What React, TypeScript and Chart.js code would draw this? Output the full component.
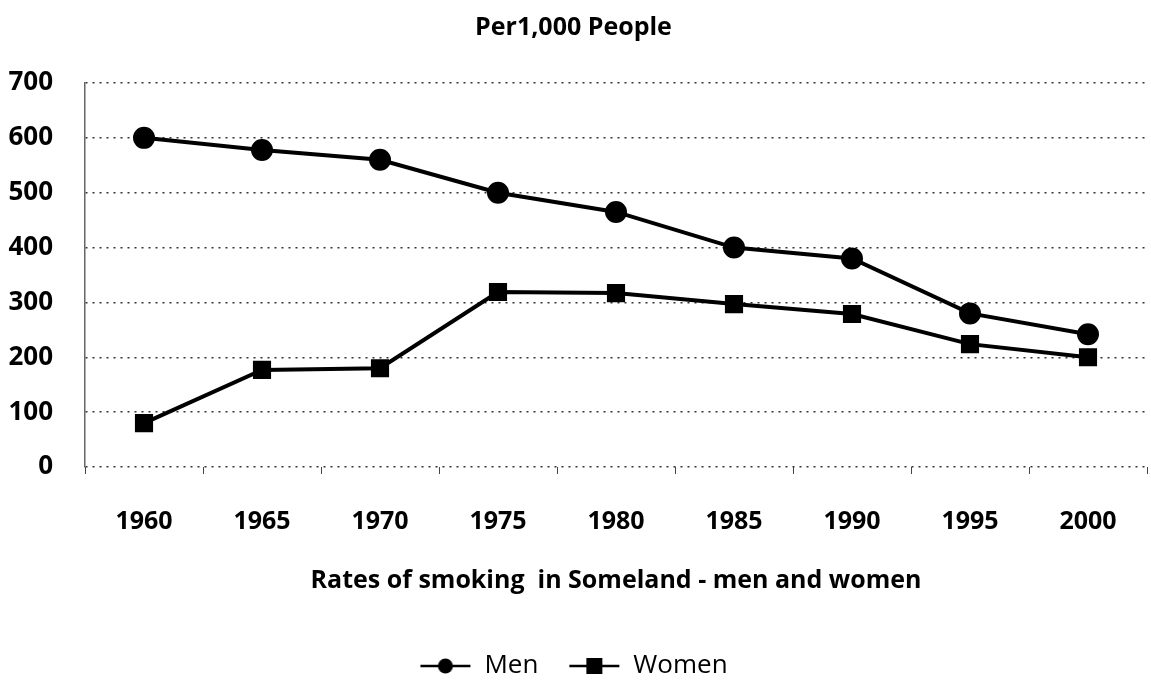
import React, { useEffect, useRef } from "react";
import { Chart, registerables } from "chart.js";

Chart.register(...registerables);

const categories = ["1960", "1965", "1970", "1975", "1980", "1985", "1990", "1995", "2000"];
const menValues = [600, 578, 560, 500, 465, 400, 380, 280, 242];
const womenValues = [80, 177, 180, 319, 317, 297, 279, 224, 200];
const chartTitle = "Per1,000 People";
const xTitle = "Rates of smoking  in Someland - men and women";

function legendIcon(kind: "circle" | "rect") {
  const c = document.createElement("canvas");
  c.width = 52;
  c.height = 20;
  const ctx = c.getContext("2d")!;
  ctx.strokeStyle = "#000";
  ctx.lineWidth = 2.5;
  ctx.beginPath();
  ctx.moveTo(1, 10);
  ctx.lineTo(51, 10);
  ctx.stroke();
  ctx.fillStyle = "#000";
  if (kind === "circle") {
    ctx.beginPath();
    ctx.arc(26, 10, 7.5, 0, Math.PI * 2);
    ctx.fill();
  } else {
    ctx.fillRect(18, 2, 16, 16);
  }
  return c;
}

export default function App() {
  const ref = useRef<HTMLCanvasElement | null>(null);
  useEffect(() => {
    document.body.style.margin = "0";
    const font = "'Open Sans', Lato, sans-serif";
    const icons = [legendIcon("circle"), legendIcon("rect")];
    const chart = new Chart(ref.current!, {
      type: "line",
      data: {
        labels: categories,
        datasets: [
          {
            label: "Men",
            data: menValues,
            borderColor: "#000",
            backgroundColor: "#000",
            borderWidth: 4,
            pointStyle: "circle",
            pointRadius: 9,
            pointBackgroundColor: "#000",
            pointBorderColor: "#000",
            tension: 0,
          },
          {
            label: "Women",
            data: womenValues,
            borderColor: "#000",
            backgroundColor: "#000",
            borderWidth: 4,
            pointStyle: "rect",
            pointRadius: 10,
            pointBackgroundColor: "#000",
            pointBorderColor: "#000",
            tension: 0,
          },
        ],
      },
      options: {
        animation: false,
        responsive: false,
        layout: { autoPadding: false, padding: { left: 0, right: 4, top: 0, bottom: -3 } },
        plugins: {
          title: {
            display: true,
            text: chartTitle,
            color: "#000",
            font: { family: font, size: 25, weight: "bold" },
            padding: { top: 13, bottom: 40 },
          },
          legend: {
            position: "bottom",
            labels: {
              color: "#000",
              font: { family: font, size: 26 },
              usePointStyle: true,
              pointStyleWidth: 52,
              padding: 30,
              generateLabels: (ch: any) =>
                ch.data.datasets.map((ds: any, i: number) => ({
                  text: ds.label,
                  fillStyle: "#000",
                  strokeStyle: "#000",
                  lineWidth: 0,
                  pointStyle: icons[i],
                  datasetIndex: i,
                  hidden: false,
                  fontColor: "#000",
                })),
            },
          },
          tooltip: { enabled: false },
        },
        scales: {
          x: {
            offset: true,
            afterFit: (s: any) => {
              s.paddingLeft = 0;
              s.paddingRight = 0;
            },
            grid: {
              display: true,
              drawOnChartArea: false,
              drawTicks: true,
              tickLength: 7,
              color: "#444",
              offset: true,
            },
            border: { display: false },
            ticks: {
              color: "#000",
              font: { family: font, size: 25, weight: "bold" },
              padding: 33,
            },
            title: {
              display: true,
              text: xTitle,
              color: "#000",
              font: { family: font, size: 25, weight: "bold" },
              padding: { top: -4, bottom: 27 },
            },
          },
          y: {
            min: 0,
            max: 700,
            afterFit: (s: any) => {
              s.width = 85;
            },
            ticks: {
              stepSize: 100,
              color: "#000",
              font: { family: font, size: 26, weight: "bold" },
              padding: 32,
            },
            grid: {
              color: "#333",
              lineWidth: 1.5,
              drawTicks: false,
            },
            border: { display: true, color: "#666", dash: [2, 5], width: 1.5 },
          },
        },
      },
    });
    return () => chart.destroy();
  }, []);
  return (
    <div style={{ width: 1151, height: 686, background: "#fff" }}>
      <canvas ref={ref} width={1151} height={686} />
    </div>
  );
}
